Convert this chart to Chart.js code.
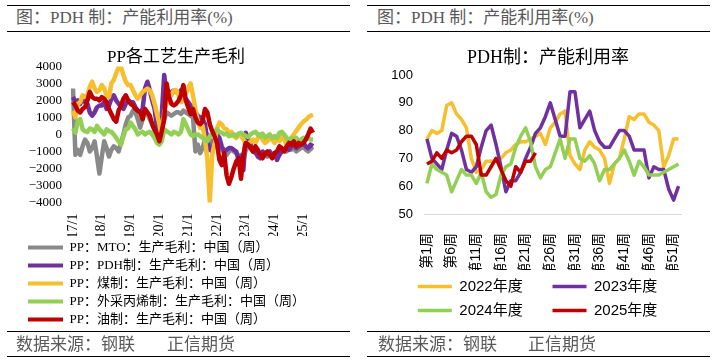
<!DOCTYPE html>
<html>
<head>
<meta charset="utf-8">
<script src="https://cdn.jsdelivr.net/npm/chart.js@4/dist/chart.umd.min.js"></script>
<style>
  html, body { margin: 0; padding: 0; background: #fff; overflow: hidden; }
  body { width: 715px; height: 363px; position: relative; }
  .rule { position: absolute; height: 0; border-top: 1.5px solid #000; }
  .cap { position: absolute; font: 17px "Liberation Serif", "Noto Sans CJK SC", serif; color: #595959; white-space: pre; line-height: 20px; }
  canvas { position: absolute; }
</style>
</head>
<body>
<div class="rule" style="left:7px; width:343px; top:5px"></div>
<div class="cap" style="left:16px; top:8px">图：PDH 制：产能利用率(%)</div>
<div class="rule" style="left:7px; width:343px; top:31px"></div>
<div class="rule" style="left:367px; width:343px; top:5px"></div>
<div class="cap" style="left:377px; top:8px">图：PDH 制：产能利用率(%)</div>
<div class="rule" style="left:367px; width:343px; top:31px"></div>

<canvas id="marginChart" width="360" height="300" style="left:0; top:36px"></canvas>
<canvas id="utilChart" width="366" height="292" style="left:360px; top:36px"></canvas>

<div class="rule" style="left:7px; width:343px; top:331px"></div>
<div class="cap" style="left:16px; top:335px">数据来源：钢联</div>
<div class="cap" style="left:167px; top:335px">正信期货</div>
<div class="rule" style="left:7px; width:343px; top:356px"></div>
<div class="rule" style="left:367px; width:343px; top:331px"></div>
<div class="cap" style="left:378px; top:335px">数据来源：钢联</div>
<div class="cap" style="left:528px; top:335px">正信期货</div>
<div class="rule" style="left:367px; width:343px; top:356px"></div>

<script>
const SERIF = '"Liberation Serif", "Noto Sans CJK SC", serif';
const SANS = '"Liberation Sans", "Noto Sans CJK SC", sans-serif';

// left chart: monthly, 17/1 .. 25/5
const monthLabels = [];
for (let i = 0; i < 101; i++) {
    monthLabels.push((17 + Math.floor(i / 12)) + '/' + (i % 12 + 1));
}

const mtoMargin = [
    2700, -1200, -900, -1200, -700, -300, -500, -1000, -800, -400, -1300, -2300,
    -1300, -400, -800, -1300, -900, -700, -800, -1000, -500, 0, 600, 1000,
    1100, 1400, 1300, 900, 400, 900, 1400, 1200, 900, 600, 200, -200,
    -500, 300, 900, 1300, 1200, 1100, 1200, 1300, 1300, 1200, 1400, 1300,
    1200, 1100, 1000, -1000, -600, -1100, -800, -300, 0, -300, -800, -700,
    -500, -600, -900, -1100, -1200, -1000, -900, -1000, -1100, -1300, -1200, -1500,
    -900, -700, -800, -1000, -1100, -1200, -1300, -1100, -1200, -1300, -1100, -1200,
    -1100, -1300, -1100, -1000, -900, -1000, -800, -900, -800, -1000, -900, -800,
    -700, -900, -1000, -800, -900
];
const pdhMargin = [
    2200, 1900, 2000, 1800, 2100, 1900, 1800, 1300, 1100, 1300, 1600, 1700,
    1700, 1900, 1500, 1700, 2100, 2300, 2000, 1800, 1700, 1500, 1800, 2000,
    1900, 1900, 1600, 1400, 1300, 1500, 2700, 3100, 2600, 2000, 1500, 400,
    0, 1200, 3500, 2300, 2100, 2500, 2600, 2500, 2400, 2600, 2300, 2100,
    1900, 1700, 1600, 1300, 1100, 1000, 900, 600, -400, -900, -1000, -300,
    0, -200, -700, -1000, -900, -800, -800, -900, -1000, -1500, -1300, -2100,
    100, -300, -600, -1000, -1000, -1300, -1400, -1000, -1200, -1100, -1000, -1300,
    -1100, -1500, -1200, -1000, -900, -800, -900, -700, -600, -800, -700, -600,
    -500, -700, -800, -600, -700
];
const coalMargin = [
    1400, 1000, 1800, 1900, 2300, 2200, 2300, 2800, 3100, 2700, 2500, 2600,
    2900, 2700, 2300, 2200, 3000, 3200, 3600, 3950, 3950, 3500, 3100, 2900,
    2900, 2600, 2300, 2100, 2300, 2500, 2600, 2700, 2600, 2300, 1800, 1200,
    600, -200, 1300, 1900, 2100, 2300, 2600, 2600, 2300, 1900, 2100, 2400,
    2700, 3000, 2300, 1500, 800, 400, 500, -300, -1500, -3950, -1200, -500,
    350, 700, 600, 350, 300, 100, 150, -100, -200, 0, -100, -300,
    -500, -600, -400, -300, -500, -200, 0, -300, -500, -400, -200, -300,
    -500, -200, -400, -100, -300, -600, -400, -200, 0, 200, 400, 600,
    750, 850, 1000, 1100, 1150
];
const propyleneMargin = [
    350, 100, 800, 900, 300, 200, 150, 350, 300, 150, 500, 300,
    150, 0, 300, 200, 150, 0, -200, -400, -600, -100, 300, 350,
    700, 500, 300, 0, 100, 150, 0, 100, 150, 0, -200, -500,
    -600, -400, 300, 200, 100, 0, 150, 100, 0, 150, 900, 600,
    300, 0, -100, 0, 0, -100, -200, -300, -400, -100, 0, 150,
    300, 150, 100, 0, 50, -100, -50, 0, -100, 50, 100, 0,
    -100, -150, 0, 100, 150, 0, -100, 50, -200, -100, 0, -200,
    -100, -200, 100, 150, 0, -200, -400, -200, -300, -200, -400, -300,
    -200, -250, -200, -300, -300
];
const oilMargin = [
    1900, 1700, 1400, 1300, 1500, 1600, 2000, 2500, 2200, 2100, 2100, 2000,
    2200, 2100, 1900, 1500, 1200, 900, 750, 1400, 1700, 2100, 2300, 2000,
    1800, 1700, 1500, 1400, 1300, 900, 1500, 1300, 1100, 600, 300, 0,
    -400, 200, 900, 3000, 2200, 1800, 1700, 1800, 2000, 2300, 2900, 2000,
    1600, 1200, 1500, 1000, 700, 600, 800, 1500, 1300, 600, 200, -100,
    -500, -1500, -1800, -1100, -2400, -2900, -2500, -2000, -1600, -1400, -2600, -1200,
    -500, -600, -800, -1000, -700, -900, -1200, -1400, -1100, -1000, -1200, -1400,
    -1100, -1000, -700, -800, -1000, -700, -500, -600, -400, -700, -500, -600,
    -500, -300, 0, 350, 100
];

// right chart: weekly capacity utilisation
const weekLabels = [];
for (let w = 1; w <= 52; w++) weekLabels.push('第' + w + '周');

const util2022 = [77, 80, 79, 80, 89, 90, 86, 84, 81, 70, 65, 66, 69, 69, 69, 70, 72, 73, 75, 76,
    76, 77, 78, 79, 75, 81, 83, 86, 87, 71, 68, 66, 73, 76, 74, 73, 70, 61, 68, 70,
    77, 85, 84, 86, 86, 83, 82, 80, 67, 71, 77, 77];
const util2023 = [77, 70, 68, 66, 73, 79, 78, 73, 66, 65, 67, 74, 80, 82, 75, 67, 58, 62, 62, 65,
    70, 74, 79, 81, 85, 90, 84, 78, 78, 94, 94, 81, 84, 87, 80, 76, 74, 74, 77, 80,
    80, 78, 73, 73, 73, 63, 67, 66, 66, 59, 55, 60];
const util2024 = [61, 68, 66, 65, 64, 58, 62, 66, 64, 64, 61, 65, 58, 56, 57, 64, 67, 68, 74, 78,
    81, 76, 67, 63, 66, 67, 72, 77, 70, 77, 77, 70, 69, 71, 68, 62, 66, 66, 68, 70,
    73, 69, 64, 69, 67, 64, 64, 64, 65, 66, 67, 68];
const util2025 = [68, 69, 72, 70, 73, 72, 73, 76, 78, 78, 75, 64, 64, 67, 70, 66, 62, 60, 67, 65,
    69, 69, 72];

const baseLabels = Chart.defaults.plugins.legend.labels.generateLabels;

function line(label, data, color, width, order) {
    return {
        label: label,
        data: data,
        borderColor: color,
        backgroundColor: color,
        borderWidth: width,
        borderJoinStyle: 'round',
        pointRadius: 0,
        tension: 0,
        fill: false,
        order: order
    };
}

function dummyAxis(w) {
    return {
        position: 'right',
        grid: { display: false, drawTicks: false },
        border: { display: false },
        ticks: { display: false },
        afterFit: s => { s.width = w; }
    };
}

new Chart(document.getElementById('marginChart'), {
    type: 'line',
    data: {
        labels: monthLabels,
        datasets: [
            line('PP：MTO：生产毛利：中国（周）', mtoMargin, '#898989', 4.5, 4),
            line('PP：PDH制：生产毛利：中国（周）', pdhMargin, '#7030A0', 4.5, 3),
            line('PP：煤制：生产毛利：中国（周）', coalMargin, '#F7BE2D', 4.5, 2),
            line('PP：外采丙烯制：生产毛利：中国（周）', propyleneMargin, '#92CF55', 4.5, 1),
            line('PP：油制：生产毛利：中国（周）', oilMargin, '#C00000', 4.5, 0)
        ]
    },
    options: {
        responsive: false,
        animation: false,
        layout: { padding: { left: 23, right: 31, top: 0, bottom: 0 } },
        plugins: {
            title: {
                display: true,
                text: 'PP各工艺生产毛利',
                color: '#000',
                font: { family: SERIF, size: 17, weight: 'normal' },
                padding: { top: 11, bottom: -1 }
            },
            legend: {
                position: 'bottom',
                align: 'start',
                labels: {
                    boxWidth: 35,
                    boxHeight: 4,
                    padding: 5,
                    color: '#000',
                    font: { family: SERIF, size: 13 },
                    sort: (a, b) => a.datasetIndex - b.datasetIndex,
                    generateLabels: chart => baseLabels(chart).map(it => Object.assign(it, { lineWidth: 0 }))
                }
            },
            tooltip: { enabled: false }
        },
        scales: {
            x: {
                grid: { display: false, drawTicks: false },
                border: { display: false },
                ticks: {
                    autoSkip: false,
                    minRotation: 90,
                    maxRotation: 90,
                    padding: 11,
                    color: '#000',
                    font: { family: SERIF, size: 14 },
                    callback: function (v) {
                        const l = this.getLabelForValue(v);
                        return l.endsWith('/1') ? l : '';
                    }
                },
                afterFit: s => { s.height = 33.5; }
            },
            y: {
                min: -4000,
                max: 4000,
                grid: { display: false, drawTicks: false },
                border: { display: false },
                ticks: {
                    stepSize: 1000,
                    autoSkip: false,
                    padding: 11,
                    color: '#000',
                    font: { family: SERIF, size: 13 },
                    callback: v => v < 0 ? '\u2212' + (-v) : String(v)
                },
                afterFit: s => { s.width = 50; }
            },
            yR: dummyAxis(16)
        }
    }
});

new Chart(document.getElementById('utilChart'), {
    type: 'line',
    data: {
        labels: weekLabels,
        datasets: [
            line('2022年度', util2022, '#F7BE2D', 3.5, 3),
            line('2023年度', util2023, '#7030A0', 3.5, 2),
            line('2024年度', util2024, '#92CF55', 3.5, 1),
            line('2025年度', util2025, '#C00000', 3.5, 0)
        ]
    },
    options: {
        responsive: false,
        animation: false,
        layout: { padding: { left: 10, right: 0, top: 0, bottom: 0 } },
        plugins: {
            title: {
                display: true,
                text: 'PDH制：产能利用率',
                color: '#000',
                font: { family: SERIF, size: 18, weight: 'normal' },
                padding: { top: 11, bottom: 6.4 }
            },
            legend: {
                position: 'bottom',
                align: 'center',
                labels: {
                    boxWidth: 34,
                    boxHeight: 3.5,
                    padding: 9,
                    color: '#000',
                    font: { family: SANS, size: 15 },
                    sort: (a, b) => a.datasetIndex - b.datasetIndex,
                    generateLabels: chart => baseLabels(chart).map(it => Object.assign(it, { lineWidth: 0, text: it.text + '     ' }))
                }
            },
            tooltip: { enabled: false }
        },
        scales: {
            x: {
                offset: true,
                grid: { display: false, drawTicks: false },
                border: { display: true, color: '#d9d9d9', width: 1 },
                ticks: {
                    autoSkip: false,
                    minRotation: 90,
                    maxRotation: 90,
                    padding: 19,
                    color: '#000',
                    font: { family: SANS, size: 14 },
                    callback: function (v, i) {
                        return i % 5 === 0 ? this.getLabelForValue(v) : '';
                    }
                },
                afterFit: s => { s.height = 56; }
            },
            y: {
                min: 50,
                max: 100,
                grid: { display: false, drawTicks: false },
                border: { display: false },
                ticks: {
                    stepSize: 10,
                    autoSkip: false,
                    padding: 11.5,
                    color: '#000',
                    font: { family: SANS, size: 13 }
                },
                afterFit: s => { s.width = 54.5; }
            },
            yR: dummyAxis(45)
        }
    }
});
</script>
</body>
</html>
